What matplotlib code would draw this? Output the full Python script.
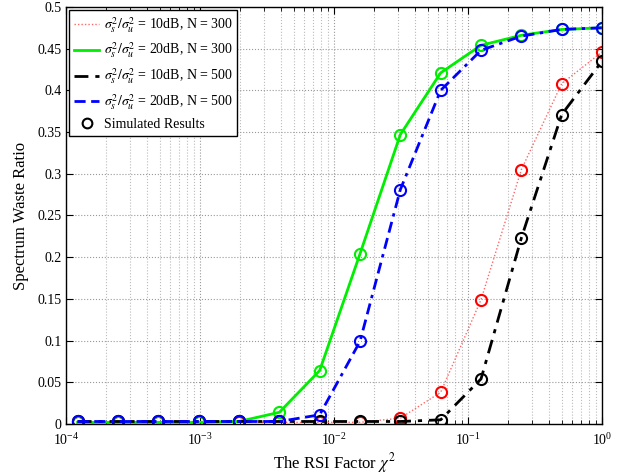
import matplotlib
matplotlib.use("Agg")
import matplotlib.pyplot as plt
import numpy as np
from matplotlib.lines import Line2D
from matplotlib.ticker import LogLocator, FixedLocator, FixedFormatter, NullFormatter

plt.rcParams['font.family'] = ['Liberation Serif', 'DejaVu Serif']
plt.rcParams['mathtext.fontset'] = 'stix'

# RSI factor chi^2 = 2^-13 ... 2^0
rsi = 2.0 ** np.arange(-13, 1)

ratio_10db_300 = [0.002, 0.002, 0.002, 0.002, 0.002, 0.002, 0.002, 0.002,
                  0.007, 0.038, 0.149, 0.305, 0.408, 0.446]
ratio_20db_300 = [0.002, 0.002, 0.002, 0.002, 0.003, 0.014, 0.064, 0.204,
                  0.347, 0.421, 0.454, 0.466, 0.473, 0.475]
ratio_10db_500 = [0.003, 0.003, 0.003, 0.003, 0.003, 0.003, 0.003, 0.003,
                  0.003, 0.005, 0.054, 0.223, 0.371, 0.435]
ratio_20db_500 = [0.003, 0.003, 0.003, 0.003, 0.003, 0.003, 0.011, 0.099,
                  0.281, 0.400, 0.448, 0.465, 0.473, 0.475]

series = [
    (ratio_10db_300, r'$\sigma^2_s/\sigma^2_u$ = 10dB, N = 300', '#ff6666', (0, (1, 1.5)), 1.0, 'red'),
    (ratio_20db_300, r'$\sigma^2_s/\sigma^2_u$ = 20dB, N = 300', '#00ee00', '-', 2.0, '#00ee00'),
    (ratio_10db_500, r'$\sigma^2_s/\sigma^2_u$ = 10dB, N = 500', 'black', (0, (5, 2.5, 1.5, 2.5)), 2.0, 'black'),
    (ratio_20db_500, r'$\sigma^2_s/\sigma^2_u$ = 20dB, N = 500', '#0000ff', (0, (4, 2, 4, 2, 1.2, 2)), 2.0, '#0000ff'),
]

fig = plt.figure(figsize=(6.24, 4.75), dpi=100)
ax = fig.add_axes([0.1058, 0.1074, 0.859, 0.878])

handles = []
for vals, label, color, ls, lw, mcolor in series:
    ax.plot(rsi, vals, color=color, linestyle=ls, linewidth=lw)
    ax.plot(rsi, vals, linestyle='none', marker='o', markersize=8,
            markerfacecolor='none', markeredgecolor=mcolor, markeredgewidth=1.5)
    handles.append(Line2D([], [], color=color, linestyle=ls, linewidth=lw, label=label))
handles.append(Line2D([], [], linestyle='none', marker='o', markersize=7,
                      markerfacecolor='none', markeredgecolor='black',
                      markeredgewidth=1.5, label='Simulated Results'))

ax.set_xscale('log')
ax.set_xlim(1e-4, 1)
ax.set_ylim(0, 0.5)
yt = np.arange(0, 0.501, 0.05)
ax.yaxis.set_major_locator(FixedLocator(yt))
ax.yaxis.set_major_formatter(FixedFormatter(['%g' % round(v, 2) for v in yt]))
ax.xaxis.set_major_locator(LogLocator(base=10, numticks=10))
ax.xaxis.set_minor_locator(LogLocator(base=10, subs=np.arange(2, 10), numticks=20))
ax.xaxis.set_minor_formatter(NullFormatter())

ax.grid(True, which='major', linestyle=':', color='#999999', linewidth=0.8)
ax.grid(True, which='minor', axis='x', linestyle=':', color='#bbbbbb', linewidth=0.8)
ax.tick_params(which='both', direction='in', top=True, right=True, labelsize=10, pad=3)
ax.tick_params(axis='x', which='major', pad=6)
ax.tick_params(which='major', length=5)
ax.tick_params(which='minor', length=3)
for sp in ax.spines.values():
    sp.set_linewidth(1.0)

ax.set_xlabel(r'The RSI Factor $\chi^2$', fontsize=12, labelpad=2)
ax.set_ylabel('Spectrum Waste Ratio', fontsize=12, labelpad=6)

leg = ax.legend(handles=handles, loc='upper left', fontsize=10, fancybox=False,
                framealpha=1, edgecolor='black', handlelength=1.8,
                borderaxespad=0.25, labelspacing=0.45, handletextpad=0.3,
                borderpad=0.35)
leg.get_frame().set_linewidth(1.0)

fig.savefig('out.png', dpi=100)
